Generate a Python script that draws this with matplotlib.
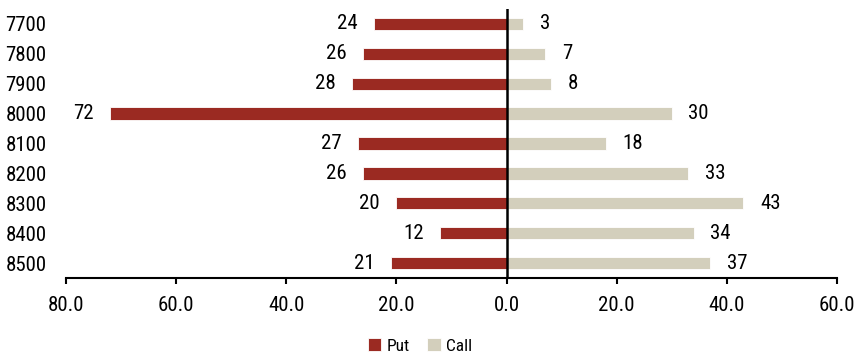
import matplotlib.pyplot as plt
import numpy as np

strikes = ['7700', '7800', '7900', '8000', '8100', '8200', '8300', '8400', '8500']
put = [24, 26, 28, 72, 27, 26, 20, 12, 21]
call = [3, 7, 8, 30, 18, 33, 43, 34, 37]

put_color = '#9B2A22'
call_color = '#D3CFBC'

plt.rcParams['font.family'] = ['Roboto Condensed', 'PT Sans Narrow', 'Archivo Narrow', 'DejaVu Sans']

fig = plt.figure(figsize=(8.55, 3.56), dpi=100)
ax = fig.add_axes([66 / 855, 1 - 278 / 356, (837 - 66) / 855, (278 - 9) / 356])

y = np.arange(len(strikes))
ax.barh(y, [-v for v in put], height=0.41, color=put_color, edgecolor='white',
        linewidth=0.6, label='Put')
ax.barh(y, call, height=0.41, color=call_color, edgecolor='white',
        linewidth=0.6, label='Call')

# value labels sit a fixed distance beyond the bar ends
for yi, v in zip(y, put):
    ax.annotate(str(v), (-v, yi), xytext=(-12, 0), textcoords='offset points',
                ha='right', va='center', fontsize=15)
for yi, v in zip(y, call):
    ax.annotate(str(v), (v, yi), xytext=(12, 0), textcoords='offset points',
                ha='left', va='center', fontsize=15)

ax.axvline(0, color='black', linewidth=1.8)
ax.set_xlim(-80, 60)
ax.set_ylim(len(strikes) - 0.5, -0.5)
ticks = np.arange(-80, 61, 20)
ax.set_xticks(ticks)
ax.set_xticklabels([f'{abs(t):.1f}' for t in ticks], fontsize=15)
ax.set_yticks(y)
ax.set_yticklabels(strikes, fontsize=15)
ax.tick_params(axis='y', length=0, pad=14)
ax.tick_params(axis='x', length=4, width=1.5, direction='out', pad=9)

for s in ['top', 'right', 'left']:
    ax.spines[s].set_visible(False)
ax.spines['bottom'].set_linewidth(1.5)

fig.legend(loc='center', bbox_to_anchor=(420 / 855, 1 - 346 / 356), ncol=2, frameon=False,
           fontsize=12.5, handlelength=0.8, handleheight=0.8, handletextpad=0.3,
           columnspacing=1.0, borderpad=0.2)

fig.savefig('out.png', dpi=100)
